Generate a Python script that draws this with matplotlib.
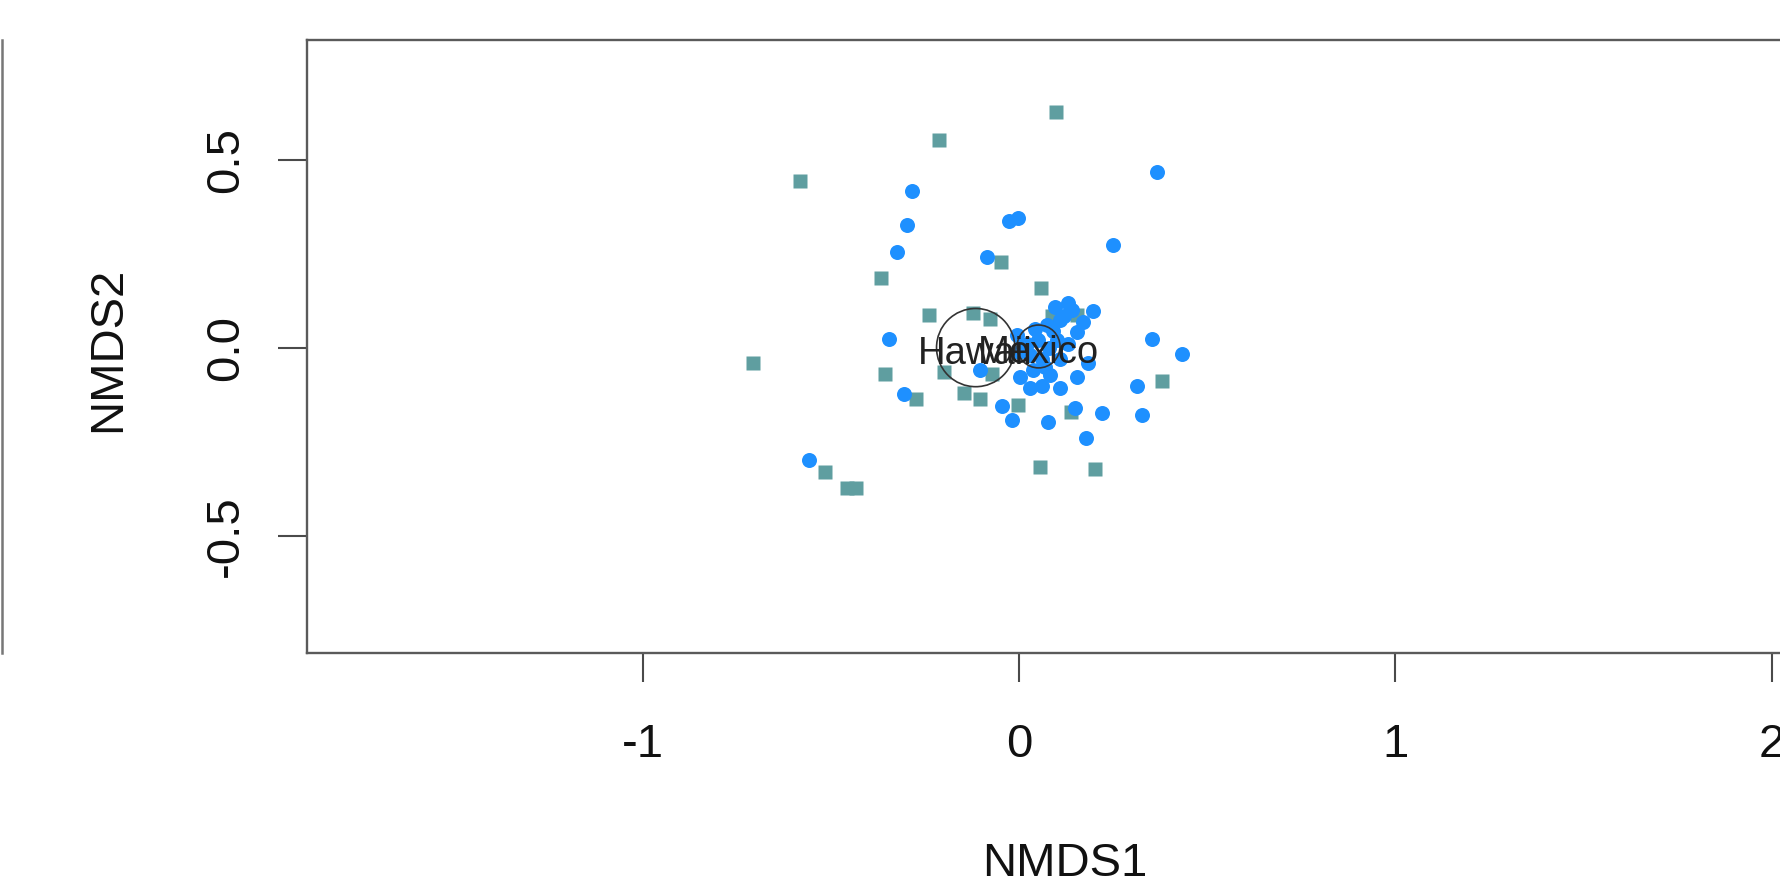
"""NMDS ordination: Hawaii vs Mexico samples with group ellipses (R vegan style)."""
import matplotlib
matplotlib.use("Agg")
import matplotlib.pyplot as plt
from matplotlib.patches import Ellipse
from matplotlib.lines import Line2D

plt.rcParams["font.family"] = ["Liberation Sans", "DejaVu Sans"]

# Hawaii samples (squares)
hawaii_x = [0.098, -0.212, -0.581, -0.367, -0.047, 0.059, -0.240, -0.121, -0.078, 0.087,
            0.155, -0.707, -0.355, 0.379, -0.199, -0.071, -0.273, -0.145, -0.103, -0.002,
            0.138, -0.515, -0.457, -0.433, 0.056, 0.202]
hawaii_y = [0.628, 0.553, 0.444, 0.185, 0.228, 0.160, 0.088, 0.094, 0.078, 0.084,
            0.087, -0.041, -0.070, -0.088, -0.063, -0.068, -0.137, -0.119, -0.136, -0.153,
            -0.169, -0.331, -0.372, -0.372, -0.316, -0.323]

# Mexico samples (circles)
mexico_x = [0.366, -0.285, -0.297, -0.323, -0.026, -0.003, 0.249, -0.086, -0.344, 0.354,
            0.432, -0.305, -0.558, 0.177, 0.131, 0.096, 0.197, 0.171, 0.153, 0.074,
            0.042, -0.006, 0.184, 0.003, 0.038, 0.082, 0.153, 0.029, 0.109, -0.104,
            0.313, -0.046, -0.019, 0.078, 0.149, 0.220, 0.326, 0.109,
            0.02, 0.05, 0.08, 0.06, 0.10, 0.11, 0.13, 0.09, 0.03, 0.07, 0.12, 0.00, 0.14, 0.06]
mexico_y = [0.467, 0.418, 0.327, 0.255, 0.338, 0.345, 0.274, 0.243, 0.023, 0.024,
            -0.016, -0.123, -0.298, -0.239, 0.120, 0.110, 0.099, 0.070, 0.043, 0.061,
            0.050, 0.035, -0.041, -0.078, -0.059, -0.072, -0.078, -0.107, -0.107, -0.059,
            -0.101, -0.154, -0.191, -0.196, -0.160, -0.174, -0.178, 0.074,
            0.01, 0.02, 0.0, -0.03, 0.02, -0.03, 0.01, 0.045, -0.02, -0.05, 0.085, -0.01, 0.10, -0.10]

# group ellipses (centroid + radius) and labels
groups = ["Hawaii", "Mexico"]
ell_x = [-0.115, 0.052]
ell_y = [0.001, 0.004]
ell_r = [0.104, 0.057]

x_ticks = [-1, 0, 1, 2]
y_ticks = [-0.5, 0.0, 0.5]

W, H = 1781, 891
fig = plt.figure(figsize=(W / 100, H / 100), dpi=100)
ax = fig.add_axes([306.7 / W, (H - 653.3) / H, 1516.8 / W, 613.3 / H])

ax.plot(hawaii_x, hawaii_y, "s", color="#5F9EA0", ms=10.5, mec="none", zorder=2)
ax.plot(mexico_x, mexico_y, "o", color="#1E90FF", ms=10.8, mec="none", zorder=3)

for g, cx, cy, r in zip(groups, ell_x, ell_y, ell_r):
    ax.add_patch(Ellipse((cx, cy), 2 * r, 2 * r, fill=False, ec="#333333", lw=1.2, zorder=4))
    # R centres the label on the centroid slightly lower than matplotlib's bbox centre
    ax.annotate(g, (cx, cy), xytext=(0, -4.5), textcoords="offset points",
                ha="center", va="center", fontsize=27.5, color="#222222", zorder=5)

ax.set_xlim(-1.892, 2.137)
ax.set_ylim(-0.812, 0.819)
ax.set_xticks(x_ticks)
ax.set_xticklabels(["-1", "0", "1", "2"])
ax.set_yticks(y_ticks)
ax.set_yticklabels(["-0.5", "0.0", "0.5"])

for s in ax.spines.values():
    s.set_color("#5a5a5a")
    s.set_linewidth(1.7)
ax.tick_params(axis="both", direction="out", length=21, width=1.5, color="#4a4a4a",
               labelsize=34, labelcolor="#111111")
ax.tick_params(axis="x", pad=29.5)
ax.tick_params(axis="y", pad=21, labelrotation=90)
for lbl in ax.get_yticklabels():
    lbl.set_verticalalignment("center")

ax.set_xlabel("NMDS1", fontsize=34, color="#111111")
ax.xaxis.set_label_coords(0.5, -0.3077)
ax.set_ylabel("NMDS2", fontsize=34, color="#111111")
ax.yaxis.set_label_coords(-0.1165, 0.496)

# edge of the neighbouring panel at the far left
fig.add_artist(Line2D([2 / W, 2 / W], [(H - 653) / H, (H - 40) / H], color="#777777", lw=1.8))

fig.savefig("out.png", dpi=100)
